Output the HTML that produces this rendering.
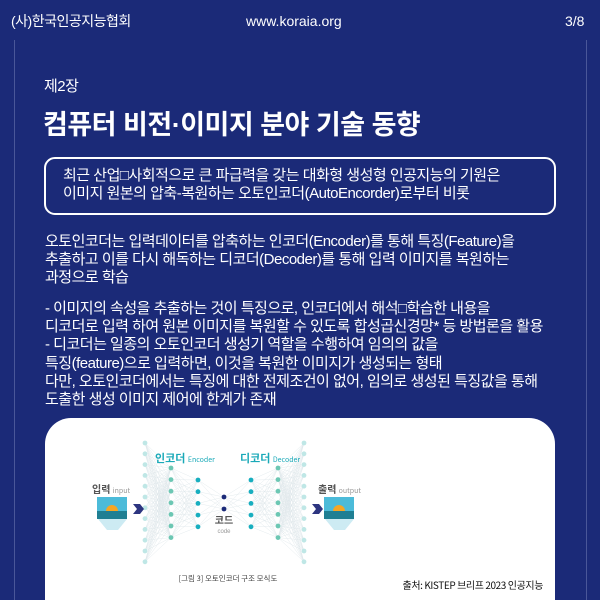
<!DOCTYPE html>
<html style="overflow:hidden;width:600px;height:600px"><head><meta charset="utf-8"><style>
body{margin:0;width:600px;height:600px;background:#1b2a78;position:relative;overflow:hidden;font-family:"Liberation Sans","Noto Sans CJK KR",sans-serif;color:#fff}
.a{position:absolute;white-space:nowrap;line-height:1}
.vl{position:absolute;top:40px;width:1px;height:560px;background:#4a5799}
.t{font-size:15px;letter-spacing:-0.5px}
</style></head><body>
<div class="vl" style="left:14px"></div><div class="vl" style="left:586px"></div>
<div class="a" style="left:11px;top:14px;font-size:14px;letter-spacing:-0.5px">(사)한국인공지능협회</div>
<div class="a" style="left:246px;top:14px;font-size:14px">www.koraia.org</div>
<div class="a" style="left:565px;top:14px;font-size:14px">3/8</div>
<div class="a" style="left:44px;top:79px;font-size:15px;letter-spacing:-0.5px">제2장</div>
<div class="a" style="left:43px;top:112px;font-size:27px;font-weight:bold;letter-spacing:-0.5px">컴퓨터 비전·이미지 분야 기술 동향</div>
<div class="a" style="left:44px;top:157px;width:508px;height:54px;border:2px solid #fff;border-radius:11px"></div>
<div class="a t" style="left:63px;top:168px">최근 산업□사회적으로 큰 파급력을 갖는 대화형 생성형 인공지능의 기원은</div>
<div class="a t" style="left:63px;top:186px">이미지 원본의 압축-복원하는 오토인코더(AutoEncorder)로부터 비롯</div>
<div class="a t" style="left:45px;top:234px">오토인코더는 입력데이터를 압축하는 인코더(Encoder)를 통해 특징(Feature)을</div>
<div class="a t" style="left:45px;top:252px">추출하고 이를 다시 해독하는 디코더(Decoder)를 통해 입력 이미지를 복원하는</div>
<div class="a t" style="left:45px;top:270px">과정으로 학습</div>
<div class="a t" style="left:45px;top:301px">- 이미지의 속성을 추출하는 것이 특징으로, 인코더에서 해석□학습한 내용을</div>
<div class="a t" style="left:45px;top:319px">디코더로 입력 하여 원본 이미지를 복원할 수 있도록 합성곱신경망* 등 방법론을 활용</div>
<div class="a t" style="left:45px;top:337px">- 디코더는 일종의 오토인코더 생성기 역할을 수행하여 임의의 값을</div>
<div class="a t" style="left:45px;top:356px">특징(feature)으로 입력하면, 이것을 복원한 이미지가 생성되는 형태</div>
<div class="a t" style="left:45px;top:374px">다만, 오토인코더에서는 특징에 대한 전제조건이 없어, 임의로 생성된 특징값을 통해</div>
<div class="a t" style="left:45px;top:392px">도출한 생성 이미지 제어에 한계가 존재</div>
<div class="a" style="left:45px;top:418px;width:510px;height:182px;background:#fff;border-radius:26px 26px 0 0"></div>
<svg class="a" style="left:0;top:0" width="600" height="600">
<g stroke="#dde6ea" stroke-width="0.4" id="ln"></g>
<g id="nd"></g>
<text x="155" y="462" font-size="11" font-weight="bold" fill="#19a9b8" font-family="Noto Sans CJK KR">인코더 <tspan font-size="7" font-weight="normal">Encoder</tspan></text>
<text x="240" y="462" font-size="11" font-weight="bold" fill="#19a9b8" font-family="Noto Sans CJK KR">디코더 <tspan font-size="7" font-weight="normal">Decoder</tspan></text>
<text x="92" y="493" font-size="10" font-weight="bold" fill="#555" font-family="Noto Sans CJK KR">입력 <tspan font-size="7" font-weight="normal" fill="#999">input</tspan></text>
<text x="318" y="493" font-size="10" font-weight="bold" fill="#555" font-family="Noto Sans CJK KR">출력 <tspan font-size="7" font-weight="normal" fill="#999">output</tspan></text>
<text x="224" y="524" font-size="10" font-weight="bold" fill="#555" text-anchor="middle" font-family="Noto Sans CJK KR">코드</text>
<text x="224" y="533" font-size="6" fill="#999" text-anchor="middle">code</text>
<g>
<polygon points="98,519 127,519 118,530 107,530" fill="#cdebf3"/>
<rect x="97" y="497" width="30" height="22" fill="#4cbbd9"/>
<circle cx="112" cy="511" r="6" fill="#f6a623"/>
<rect x="97" y="511" width="30" height="8" fill="#1f7f93"/>
<rect x="324" y="497" width="30" height="22" fill="#4cbbd9"/>
<circle cx="339" cy="511" r="6" fill="#f6a623"/>
<rect x="324" y="511" width="30" height="8" fill="#1f7f93"/>
<polygon points="325,519 354,519 345,530 334,530" fill="#cdebf3"/>
<polygon points="133,504 140,504 144,509 140,514 133,514 137,509" fill="#2d3580"/>
<polygon points="312,504 319,504 323,509 319,514 312,514 316,509" fill="#2d3580"/>
</g>
<text x="228" y="581" font-size="7.5" fill="#444" text-anchor="middle" font-family="Noto Sans CJK KR">[그림 3]  오토인코더  구조  모식도</text>
<text x="543" y="589" font-size="10" fill="#111" text-anchor="end" font-family="Noto Sans CJK KR" letter-spacing="-0.4">출처: KISTEP 브리프 2023 인공지능</text>
</svg>
<script>
var cols=[[145,12,443,10.8,'#bfe7e6'],[171,7,468,11.6,'#6cc7b3'],[198,5,480,11.7,'#17aebf'],[224,2,497,12,'#1b2a78'],[251,5,480,11.7,'#17aebf'],[278,7,468,11.6,'#6cc7b3'],[304,12,443,10.8,'#bfe7e6']];
var ln=document.getElementById('ln'),nd=document.getElementById('nd'),s='',n='';
function pts(c){var r=[];for(var i=0;i<c[1];i++)r.push([c[0],c[2]+i*c[3]]);return r}
for(var k=0;k<cols.length-1;k++){var a=pts(cols[k]),b=pts(cols[k+1]);a.forEach(function(p){b.forEach(function(q){s+='<line x1="'+p[0]+'" y1="'+p[1]+'" x2="'+q[0]+'" y2="'+q[1]+'"/>'})})}
cols.forEach(function(c){pts(c).forEach(function(p){n+='<circle cx="'+p[0]+'" cy="'+p[1]+'" r="2.4" fill="'+c[4]+'"/>'})});
ln.innerHTML=s;nd.innerHTML=n;
</script>
</body></html>
